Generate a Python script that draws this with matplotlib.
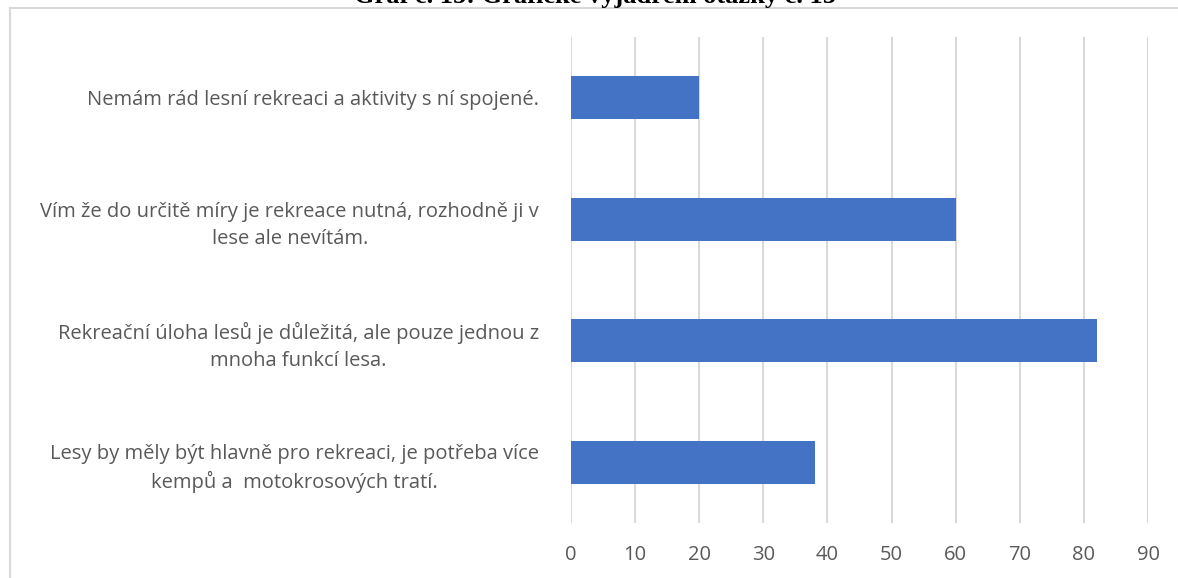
import matplotlib.pyplot as plt
from matplotlib.lines import Line2D

# data (top to bottom)
labels = [
    "Nemám rád lesní rekreaci a aktivity s ní spojené.",
    "Vím že do určitě míry je rekreace nutná, rozhodně ji v\nlese ale nevítám.",
    "Rekreační úloha lesů je důležitá, ale pouze jednou z\nmnoha funkcí lesa.",
    "Lesy by měly být hlavně pro rekreaci, je potřeba více\nkempů a  motokrosových tratí.",
]
values = [20, 60, 82, 38]
ticks = [0, 10, 20, 30, 40, 50, 60, 70, 80, 90]
title = "Graf č. 15: Grafické vyjádření otázky č. 15"

W, H = 1178, 578
fig = plt.figure(figsize=(W / 100, H / 100), dpi=100)
fig.patch.set_facecolor("white")

# plot area in pixels: x 571..1148, y 37..523
ax = fig.add_axes([571 / W, 1 - 523 / H, (1148 - 571) / W, (523 - 37) / H])

pos = list(range(len(labels)))
ax.barh(pos, values, height=0.355, color="#4472C4", zorder=3)
ax.set_ylim(len(labels) - 0.5, -0.5)
ax.set_xlim(0, 90)
ax.set_xticks(ticks)
ax.set_yticks(pos)
ax.set_yticklabels(labels, multialignment="center", linespacing=1.45)

for s in ax.spines.values():
    s.set_visible(False)
ax.grid(axis="x", color="#d9d9d9", linewidth=1.5, zorder=0)
ax.tick_params(axis="both", length=0, colors="#595959", labelsize=14.5)
ax.tick_params(axis="y", pad=23)
ax.tick_params(axis="x", pad=16)
for t in ax.get_xticklabels() + ax.get_yticklabels():
    t.set_fontfamily("Open Sans")
    t.set_color("#595959")

# outer chart border (only top and left edges are inside the crop)
border = "#d9d9d9"
fig.add_artist(Line2D([10 / W, 1], [1 - 8 / H, 1 - 8 / H], color=border, linewidth=1.5, transform=fig.transFigure))
fig.add_artist(Line2D([10 / W, 10 / W], [0, 1 - 8 / H], color=border, linewidth=1.5, transform=fig.transFigure))

# caption above the chart, mostly cut off by the crop
fig.text(595 / W, 1 - 3 / H, title, ha="center", va="baseline",
         fontfamily="Liberation Serif", fontweight="bold", fontsize=19, color="black")

fig.savefig("out.png", dpi=100)
